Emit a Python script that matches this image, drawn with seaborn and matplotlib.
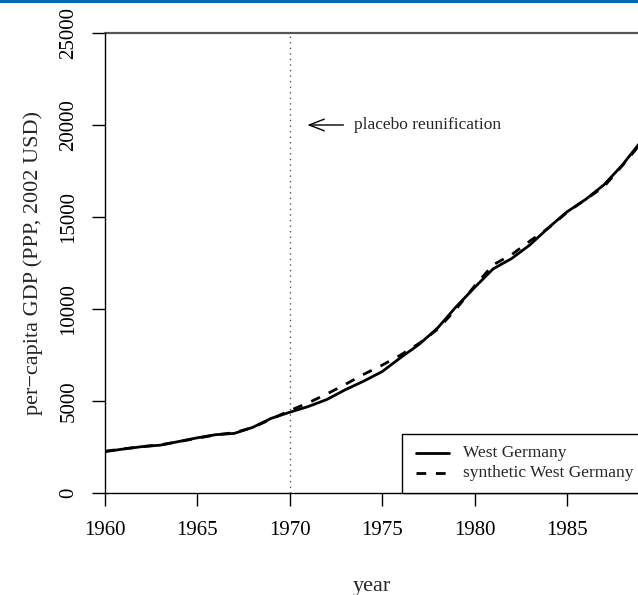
import matplotlib
matplotlib.use("Agg")
import matplotlib.pyplot as plt
import matplotlib.patches as mpatches
from matplotlib.lines import Line2D
import numpy as np
import pandas as pd
import seaborn as sns

# Per-capita GDP, West Germany vs. its synthetic control (PPP, 2002 USD)
years = list(range(1960, 1991))
west_germany = [2250, 2390, 2520, 2600, 2800, 3000, 3170, 3240, 3570, 4060,
                4390, 4700, 5080, 5610, 6080, 6600, 7360, 8080, 8970, 10120,
                11170, 12180, 12740, 13490, 14420, 15280, 15950, 16750, 17830,
                19100, 20300]
synthetic_wg = [2270, 2400, 2520, 2620, 2790, 2980, 3160, 3280, 3560, 4020,
                4480, 4900, 5380, 5900, 6450, 6950, 7500, 8130, 8900, 10000,
                11250, 12400, 12950, 13700, 14400, 15250, 15950, 16650, 17800,
                19000, 20200]
series_names = ["West Germany", "synthetic West Germany"]
y_ticks = [0, 5000, 10000, 15000, 20000, 25000]
x_ticks = [1960, 1965, 1970, 1975, 1980, 1985]
placebo_year = 1970

df = pd.DataFrame({
    "year": years * 2,
    "gdp": west_germany + synthetic_wg,
    "series": [series_names[0]] * len(years) + [series_names[1]] * len(years),
})

sns.set_theme(style="white")
plt.rcParams["font.family"] = ["Liberation Serif", "DejaVu Serif"]

W, H = 638, 595
fig = plt.figure(figsize=(W / 100, H / 100), dpi=100)
fig.patch.set_facecolor("white")


def fpx(x, y):
    """pixel position -> figure fraction"""
    return x / W, 1 - y / H


# plot region in pixels
left_px, right_px, top_px, bottom_px = 105, 638, 33, 493
ax = fig.add_axes([left_px / W, 1 - bottom_px / H,
                   (right_px - left_px) / W, (bottom_px - top_px) / H])
ax.set_facecolor("white")

x_right = 1960 + (right_px - left_px) / 18.48

dash = (3.5, 3.5)
sns.lineplot(data=df, x="year", y="gdp", style="series", hue="series",
             palette={series_names[0]: "black", series_names[1]: "black"},
             dashes={series_names[0]: "", series_names[1]: dash},
             linewidth=2.0, legend=False, ax=ax)

ax.set_xlim(1960, x_right)
ax.set_ylim(0, 25000)

ax.axvline(placebo_year, color="#555555", linestyle=(0, (1, 3)), linewidth=1.0)
ax.axhline(25000, color="#555555", linewidth=1.6, clip_on=False)

ax.annotate("", xy=(placebo_year + 0.95, 20000), xytext=(placebo_year + 2.9, 20000),
            arrowprops=dict(arrowstyle="->,head_length=0.9,head_width=0.35",
                            color="black", linewidth=1.0, shrinkA=0, shrinkB=0))
ax.text(placebo_year + 3.45, 20000, "placebo reunification", fontsize=12.5,
        va="center", ha="left")

for s in ["top", "right"]:
    ax.spines[s].set_visible(False)
for s in ["left", "bottom"]:
    ax.spines[s].set_color("black")
    ax.spines[s].set_linewidth(1.0)

ax.set_xticks(x_ticks)
ax.set_xticklabels([str(v) for v in x_ticks])
ax.set_yticks(y_ticks)
ax.set_yticklabels([str(v) for v in y_ticks], rotation=90, va="center")
ax.tick_params(axis="both", which="both", direction="out", length=9.5,
               width=1.0, color="black", labelsize=15, labelcolor="black",
               left=True, bottom=True)
ax.tick_params(axis="x", pad=10.5)
ax.tick_params(axis="y", pad=9.5)
ax.set_xlabel("")
ax.set_ylabel("")

fig.text(*fpx(372, 586), "year", ha="center", va="center", fontsize=16)
fig.text(*fpx(33, 263), "per\u2212capita GDP (PPP, 2002 USD)", ha="center",
         va="center", rotation=90, fontsize=16)

# legend box in the lower right of the plot region
box_l, box_t = 402, 434
fig.patches.append(mpatches.Rectangle(fpx(box_l, bottom_px), (700 - box_l) / W,
                                      (bottom_px - box_t) / H,
                                      transform=fig.transFigure, facecolor="white",
                                      edgecolor="black", linewidth=1.0))
rows = [453, 473]
styles = ["-", (0, dash)]
for label, ry, ls in zip(series_names, rows, styles):
    x0, y0 = fpx(416, ry)
    x1, _ = fpx(449, ry)
    fig.lines.append(Line2D([x0, x1], [y0, y0], transform=fig.transFigure,
                            color="black", linewidth=2.0, linestyle=ls))
    fig.text(*fpx(463, ry), label, ha="left", va="center", fontsize=12.5)

# thin blue band along the top edge
fig.patches.append(mpatches.Rectangle((0, 1 - 3 / H), 1, 3 / H, transform=fig.transFigure,
                                      facecolor="#0066b3", edgecolor="none"))

fig.savefig("out.png", dpi=100)
